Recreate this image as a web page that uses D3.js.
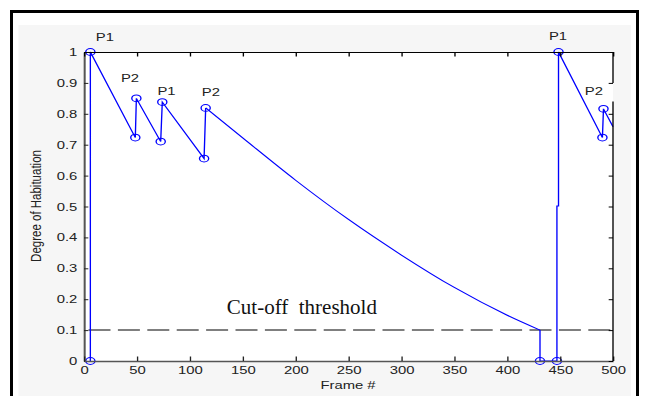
<!DOCTYPE html>
<html><head><meta charset="utf-8">
<script src="https://cdn.jsdelivr.net/npm/d3@7"></script>
<style>body{margin:0;background:#fff}svg{display:block}</style>
</head><body><svg id="c" width="649" height="396"></svg>
<script>
// ---- data ----
const lineFrames = [6, 6, 48.5, 49.5, 72.5, 74, 113.5, 115, 150, 200, 250, 300, 350, 400, 431, 431, 447, 447, 448.5, 448.5, 490, 491, 500];
const lineValues = [0, 1, 0.723, 0.850, 0.710, 0.838, 0.655, 0.819, 0.722, 0.585, 0.458, 0.343, 0.238, 0.148, 0.1, 0, 0, 0.502, 0.502, 1, 0.723, 0.816, 0.758];
const smoothFrom = 115, smoothTo = 431; // decay section drawn as a smooth curve
const markerFrames = [6, 6, 48.5, 49.5, 72.5, 74, 113.5, 115, 431, 447, 448.5, 490, 491];
const markerValues = [0, 1, 0.723, 0.850, 0.710, 0.838, 0.655, 0.819, 0, 0, 1, 0.723, 0.816];
const peakLabels = ["P1", "P2", "P1", "P2", "P1", "P2"];
const peakLabelFrames = [19.8, 43.5, 78, 120, 448, 482];
const peakLabelValues = [1.05, 0.915, 0.874, 0.871, 1.052, 0.874];
const threshold = 0.1;
const thresholdLabel = "Cut-off  threshold";
const thresholdLabelFrame = 135;
const thresholdLabelValue = 0.152;
const xTicks = [0, 50, 100, 150, 200, 250, 300, 350, 400, 450, 500];
const yTicks = [0, 0.1, 0.2, 0.3, 0.4, 0.5, 0.6, 0.7, 0.8, 0.9, 1];
const yTickLabels = ["0", "0.1", "0.2", "0.3", "0.4", "0.5", "0.6", "0.7", "0.8", "0.9", "1"];
const rightAxisGap = [0.9, 0.84];
const xTitle = "Frame #";
const yTitle = "Degree of Habituation";

// ---- layout ----
const S = 1.35; // horizontal stretch of the original figure
const svg = d3.select("#c");
svg.append("rect").attr("x", 18.5).attr("y", 25).attr("width", 612.5).attr("height", 380).attr("fill", "#f6f6f6");
svg.append("rect").attr("x", 11.5).attr("y", 11.5).attr("width", 626).attr("height", 400)
  .attr("fill", "none").attr("stroke", "#000").attr("stroke-width", 3);

const g = svg.append("g").attr("transform", `scale(${S},1)`);
const x = d3.scaleLinear().domain([0, 500]).range([84 / S, 613 / S]);
const y = d3.scaleLinear().domain([0, 1]).range([361, 52]);

g.append("rect").attr("x", x(0)).attr("y", y(1)).attr("width", x(500) - x(0)).attr("height", y(0) - y(1)).attr("fill", "#fff");

const font = "'Liberation Sans', Arial, sans-serif";

// threshold dashed line
g.append("line").attr("x1", x(0)).attr("x2", x(500)).attr("y1", y(threshold)).attr("y2", y(threshold))
  .attr("stroke", "#000").attr("stroke-width", 1).attr("stroke-dasharray", `${22 / S},${7.4 / S}`)
  .attr("stroke-dashoffset", -4.5 / S);

// data line: linear pieces + smooth decay section
const pts = lineFrames.map((f, i) => [f, lineValues[i]]);
const iA = pts.findIndex(p => p[0] === smoothFrom && p[1] > 0.8);
const iB = pts.findIndex(p => p[0] === smoothTo);
const segs = [
  { d: pts.slice(0, iA + 1), c: d3.curveLinear },
  { d: pts.slice(iA, iB + 1), c: d3.curveMonotoneX },
  { d: pts.slice(iB), c: d3.curveLinear }
];
g.selectAll("path.ln").data(segs).join("path").attr("class", "ln")
  .attr("d", s => d3.line().curve(s.c).x(d => x(d[0])).y(d => y(d[1]))(s.d))
  .attr("fill", "none").attr("stroke", "#0000ff").attr("stroke-width", 1);

// markers
g.selectAll("circle.m").data(markerFrames.map((f, i) => [f, markerValues[i]])).join("circle")
  .attr("cx", d => x(d[0])).attr("cy", d => y(d[1])).attr("r", 3.4)
  .attr("fill", "none").attr("stroke", "#0000ff").attr("stroke-width", 1);

// axes
const axL = g.append("g").attr("transform", `translate(${x(0)},0)`)
  .call(d3.axisLeft(y).tickValues(yTicks).tickSize(-3.2).tickSizeOuter(0).tickPadding(5)
    .tickFormat((d, i) => yTickLabels[i]));
const axB = g.append("g").attr("transform", `translate(0,${y(0)})`)
  .call(d3.axisBottom(x).tickValues(xTicks).tickSize(-4.5).tickSizeOuter(0).tickPadding(5)
    .tickFormat(d3.format("d")));
const axT = g.append("g").attr("transform", `translate(0,${y(1)})`)
  .call(d3.axisTop(x).tickValues(xTicks).tickSize(-4.5).tickSizeOuter(0).tickFormat(""));
const axR = g.append("g").attr("transform", `translate(${x(500)},0)`)
  .call(d3.axisRight(y).tickValues(yTicks).tickSize(-3.2).tickSizeOuter(0).tickFormat(""));
axR.select(".domain").remove();
axR.append("line").attr("x1", 0).attr("x2", 0).attr("y1", y(1)).attr("y2", y(rightAxisGap[0])).attr("stroke", "#000");
axR.append("line").attr("x1", 0).attr("x2", 0).attr("y1", y(rightAxisGap[1])).attr("y2", y(0)).attr("stroke", "#000");
[axL, axB].forEach(a => { a.select(".domain").attr("stroke", "#555").attr("stroke-width", 1.5); a.selectAll(".tick line").attr("stroke", "#222"); });
[axT, axR].forEach(a => { a.select(".domain").attr("stroke", "#000"); a.selectAll(".tick line").attr("stroke", "#000"); });
g.selectAll(".tick text").attr("font-family", font).attr("font-size", 11).attr("fill", "#222");

// peak labels
g.selectAll("text.pk").data(peakLabels).join("text").attr("class", "pk")
  .attr("x", (d, i) => x(peakLabelFrames[i])).attr("y", (d, i) => y(peakLabelValues[i]) + 4)
  .attr("text-anchor", "middle").attr("font-family", font).attr("font-size", 11).attr("fill", "#222").text(d => d);

// titles
g.append("text").attr("x", 348 / S).attr("y", 389).attr("text-anchor", "middle")
  .attr("font-family", font).attr("font-size", 11).attr("fill", "#222").text(xTitle);
g.append("text").attr("transform", `translate(${41 / S},206) rotate(-90)`).attr("text-anchor", "middle")
  .attr("font-family", font).attr("font-size", 11.5).attr("fill", "#222").text(yTitle);

// threshold label (not stretched)
svg.append("text").attr("x", x(thresholdLabelFrame) * S).attr("y", y(thresholdLabelValue))
  .attr("font-family", "'Liberation Serif', 'Times New Roman', serif").attr("font-size", 21)
  .attr("fill", "#111").style("white-space", "pre").text(thresholdLabel);
</script></body></html>
